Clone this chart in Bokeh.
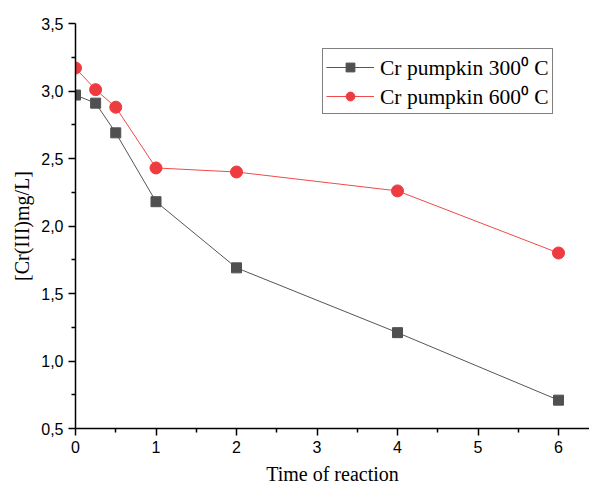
from bokeh.plotting import figure
from bokeh.models import FixedTicker, CustomJSTickFormatter, Legend, LegendItem, Range1d
from bokeh.embed import file_html
from bokeh.resources import INLINE

time = [0, 0.25, 0.5, 1, 2, 4, 6]
cr_300 = [2.97, 2.91, 2.69, 2.18, 1.69, 1.21, 0.71]
cr_600 = [3.17, 3.01, 2.88, 2.43, 2.40, 2.26, 1.80]
series_names = ["Cr pumpkin 300\u2070 C", "Cr pumpkin 600\u2070 C"]
x_ticks = [0, 1, 2, 3, 4, 5, 6]
y_ticks = [0.5, 1.0, 1.5, 2.0, 2.5, 3.0, 3.5]

W, H = 589, 489
left, top, frame_h = 75, 23, 405
p = figure(width=W, height=H, output_backend="svg", toolbar_location=None,
           x_range=Range1d(0, (W - left) / 80.5), y_range=Range1d(0.5, 3.5),
           min_border_left=left, min_border_right=0, min_border_top=top,
           min_border_bottom=H - top - frame_h)
p.outline_line_color = None
p.xgrid.visible = False
p.ygrid.visible = False

gray = "#505050"
red = "#ee3b3f"
l1 = p.line(time, cr_300, line_color="#555555", line_width=1)
m1 = p.scatter(time, cr_300, marker="square", size=10, fill_color=gray, line_color=gray)
l2 = p.line(time, cr_600, line_color="#f04a4a", line_width=1)
m2 = p.scatter(time, cr_600, marker="circle", size=12, fill_color=red, line_color=red)

for ax in (p.xaxis[0], p.yaxis[0]):
    ax.axis_line_color = "black"
    ax.axis_line_width = 1.5
    ax.major_tick_line_color = "black"
    ax.minor_tick_line_color = "black"
    ax.major_tick_line_width = 1.5
    ax.minor_tick_line_width = 1.5
    ax.major_tick_out = 7
    ax.major_tick_in = 0
    ax.minor_tick_out = 4
    ax.minor_tick_in = 0
    ax.major_label_text_font = "Liberation Sans"
    ax.major_label_text_font_size = "16px"
    ax.major_label_text_color = "black"
    ax.axis_label_text_font = "Liberation Serif"
    ax.axis_label_text_font_style = "normal"
    ax.axis_label_text_font_size = "20px"
    ax.axis_label_text_color = "black"

p.xaxis.ticker = FixedTicker(ticks=x_ticks, minor_ticks=[0.5, 1.5, 2.5, 3.5, 4.5, 5.5])
p.yaxis.ticker = FixedTicker(ticks=y_ticks, minor_ticks=[0.75, 1.25, 1.75, 2.25, 2.75, 3.25])
p.yaxis.formatter = CustomJSTickFormatter(code="return tick.toFixed(1).replace('.', ',');")
p.xaxis.formatter = CustomJSTickFormatter(code="return tick.toFixed(0);")
p.xaxis.axis_label = "Time of reaction"
p.yaxis.axis_label = "[Cr(III)mg/L]"
p.xaxis.major_label_standoff = 5
p.yaxis.major_label_standoff = 5
p.xaxis.axis_label_standoff = 7
p.yaxis.axis_label_standoff = 5

legend = Legend(items=[LegendItem(label=series_names[0], renderers=[l1, m1]),
                       LegendItem(label=series_names[1], renderers=[l2, m2])],
                location=(247, 314))
legend.label_text_font = "Liberation Serif"
legend.label_text_font_size = "21.5px"
legend.label_text_color = "black"
legend.border_line_color = "black"
legend.border_line_width = 1.2
legend.glyph_width = 48
legend.glyph_height = 22
legend.label_height = 22
legend.label_standoff = 6
legend.padding = 3
legend.spacing = 0
legend.margin = 0
legend.background_fill_alpha = 1
p.add_layout(legend, "center")

open("out.html", "w").write(file_html(p, INLINE))
